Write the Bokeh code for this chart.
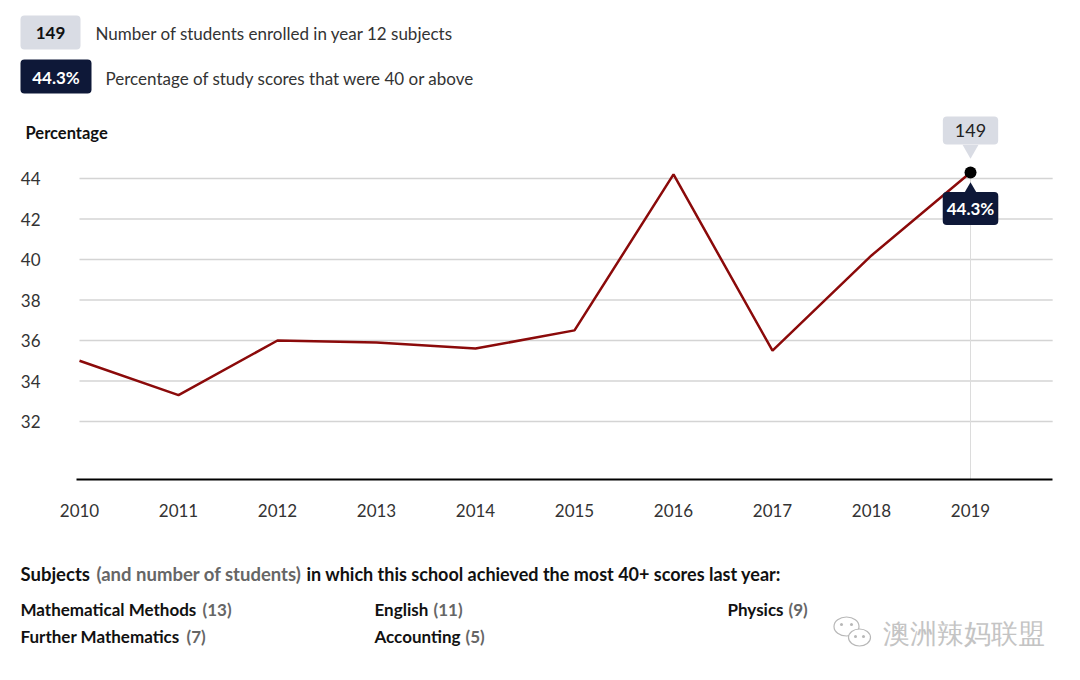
import numpy as np
from bokeh.plotting import figure
from bokeh.layouts import column
from bokeh.models import Range1d, FixedTicker, Label, BoxAnnotation
from bokeh.core.properties import value
from bokeh.embed import file_html
from bokeh.resources import INLINE

# ---- data ----
years = [2010, 2011, 2012, 2013, 2014, 2015, 2016, 2017, 2018, 2019]
pct = [35.0, 33.3, 36.0, 35.9, 35.6, 36.5, 44.2, 35.5, 40.2, 44.3]
latest_students = 149
latest_pct = 44.3
y_ticks = [32, 34, 36, 38, 40, 42, 44]
subjects = ["Mathematical Methods", "English", "Physics", "Further Mathematics", "Accounting"]
subject_counts = [13, 11, 9, 7, 5]

FONT = "Lato"
W = 1080
MAIN_H = 545
FOOT_H = 680 - MAIN_H
FB = 479  # frame bottom (canvas px) of main figure

X0, X1 = 2009.202, 2020.111
Y0, Y1 = 29.136, 52.79
GRID_X1 = 2019.83

p = figure(width=W, height=MAIN_H, output_backend="svg", toolbar_location=None,
           x_range=Range1d(X0, X1), y_range=Range1d(Y0, Y1), y_axis_location=None,
           min_border_left=0, min_border_right=0, min_border_top=0,
           min_border_bottom=MAIN_H - FB, background_fill_color="white",
           border_fill_color="white", outline_line_color=None)

p.xaxis.ticker = FixedTicker(ticks=years)
p.xaxis.bounds = (2009.97, GRID_X1)
p.xaxis.axis_line_color = "black"
p.xaxis.axis_line_width = 2
p.xaxis.major_tick_line_color = None
p.xaxis.minor_tick_line_color = None
p.xaxis.major_tick_out = 0
p.xaxis.major_label_standoff = 24
p.xaxis.major_label_text_font = FONT
p.xaxis.major_label_text_font_size = "17px"
p.xaxis.major_label_text_color = "#333333"
p.xgrid.grid_line_color = None
p.ygrid.grid_line_color = None

# horizontal gridlines and y tick labels
p.segment(x0=[years[0]] * len(y_ticks), y0=y_ticks, x1=[GRID_X1] * len(y_ticks),
          y1=y_ticks, line_color="#d4d4d4", line_width=1.5)
p.text(x=[years[0]] * len(y_ticks), y=y_ticks, text=[str(t) for t in y_ticks],
       x_offset=-39, text_align="right", text_baseline="middle",
       text_font=value(FONT), text_font_size="17px", text_color="#333333")

# vertical guide at latest year
p.segment(x0=[years[-1]], y0=[Y0], x1=[years[-1]], y1=[latest_pct],
          line_color="#dcdcdc", line_width=1)

# line
p.line(years, pct, line_color="#8b0a0a", line_width=2.5)

# tooltips
ppu = FB / (Y1 - Y0)
p.scatter([years[-1]], [latest_pct + 23 / ppu], marker="triangle", size=16,
          angle=np.pi, fill_color="#d9dce4", line_color=None)
p.scatter([years[-1]], [latest_pct - 19 / ppu], marker="triangle", size=16,
          fill_color="#0e1838", line_color=None)
p.text([years[-1]], [latest_pct], text=[str(latest_students)], y_offset=-42,
       text_align="center", text_baseline="middle", text_font=value(FONT),
       text_font_size="18px", text_color="#222222",
       background_fill_color="#d9dce4", border_radius=4,
       padding=dict(left=12, right=12, top=8, bottom=7))
p.text([years[-1]], [latest_pct], text=[f"{latest_pct}%"], y_offset=36,
       text_align="center", text_baseline="middle", text_font=value(FONT),
       text_font_size="17px", text_font_style="bold", text_color="white",
       background_fill_color="#0e1838", border_radius=4,
       padding=dict(left=4, right=4, top=6, bottom=6))
p.scatter([years[-1]], [latest_pct], size=12, fill_color="black", line_color=None)


def make_label(fig, base, px, py, text, size="16px", color="#333333", style="normal",
               align="left"):
    fig.add_layout(Label(x=px, y=base - py, x_units="screen", y_units="screen",
                         text=text, text_font=FONT, text_font_size=size,
                         text_color=color, text_font_style=style,
                         text_align=align, text_baseline="middle"))


def make_box(fig, base, l, t, r, b, color):
    fig.add_layout(BoxAnnotation(left=l, right=r, top=base - t, bottom=base - b,
                                 left_units="screen", right_units="screen",
                                 top_units="screen", bottom_units="screen",
                                 fill_color=color, fill_alpha=1, line_color=None,
                                 border_radius=4))


# header legend (inside main frame)
make_box(p, FB, 20, 15, 80, 49, "#d9dce4")
make_label(p, FB, 50, 32, str(latest_students), size="17px", color="#111111",
           style="bold", align="center")
make_label(p, FB, 95, 33, "Number of students enrolled in year 12 subjects", size="17px")
make_box(p, FB, 20, 59, 91, 93, "#0e1838")
make_label(p, FB, 55.5, 77, f"{latest_pct}%", size="17px", color="white",
           style="bold", align="center")
make_label(p, FB, 105, 78, "Percentage of study scores that were 40 or above", size="17px")
make_label(p, FB, 25, 132, "Percentage", size="16.5px", color="#111111", style="bold")

# footer figure
f = figure(width=W, height=FOOT_H, output_backend="svg", toolbar_location=None,
           x_range=Range1d(0, W), y_range=Range1d(680, MAIN_H),
           x_axis_location=None, y_axis_location=None,
           min_border_left=0, min_border_right=0, min_border_top=0, min_border_bottom=0,
           background_fill_color="white", border_fill_color="white",
           outline_line_color=None)
f.xgrid.grid_line_color = None
f.ygrid.grid_line_color = None

make_label(f, 680, 20, 573, "Subjects", size="18.5px", color="#111111", style="bold")
make_label(f, 680, 96, 573, "(and number of students)", size="18.5px", color="#666666",
           style="bold")
make_label(f, 680, 306, 573, "in which this school achieved the most 40+ scores last year:",
           size="18px", color="#111111", style="bold")

pos = [(20, 609, 202), (374, 609, 433), (727, 609, 788), (20, 636, 186), (374, 636, 465)]
for (x0, yy, xc), name, cnt in zip(pos, subjects, subject_counts):
    make_label(f, 680, x0, yy, name, size="17px", color="#111111", style="bold")
    make_label(f, 680, xc, yy, f"({cnt})", size="17px", color="#666666", style="bold")

# watermark
f.ellipse(x=[846, 859], y=[626, 637], width=[25, 22], height=[19, 17],
          fill_color="white", line_color="#b8b8b8", line_width=1.2)
f.scatter(x=[841, 851, 855, 863], y=[624, 624, 636, 636], size=3,
          fill_color="#b8b8b8", line_color=None)
make_label(f, 680, 882, 632, "澳洲辣妈联盟", size="27px", color="#c4c4c4")

layout = column(p, f, spacing=0)
open("out.html", "w").write(file_html(layout, INLINE))
